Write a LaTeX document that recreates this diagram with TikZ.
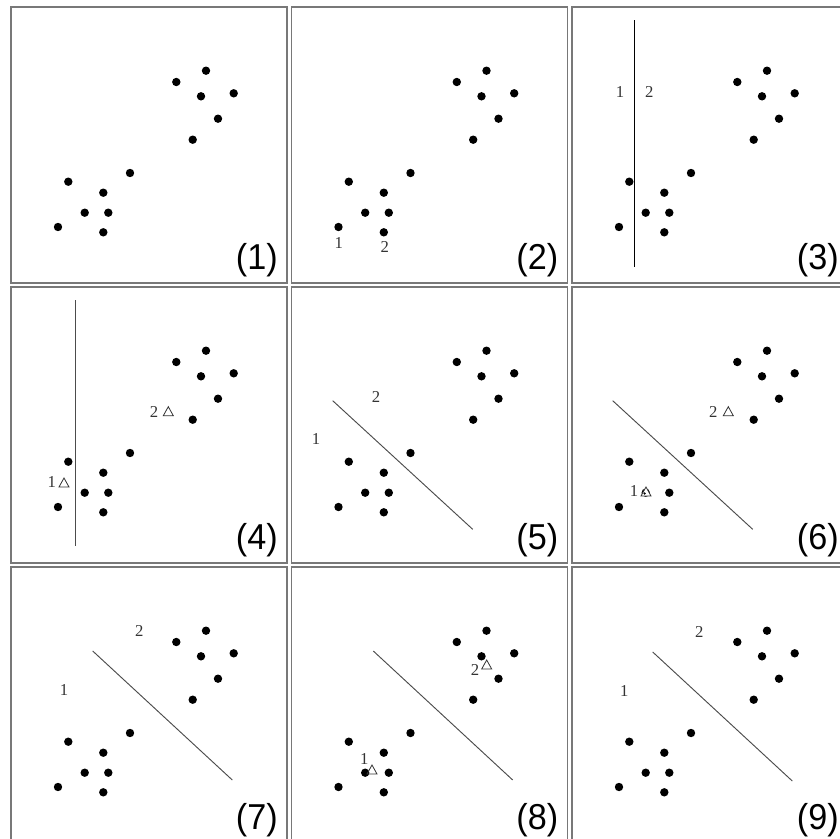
\documentclass[tikz,border=0pt]{standalone}
\usepackage{fontspec}
\setmainfont{Liberation Serif}
\newfontfamily\capfont{Liberation Sans}
\tikzset{
  frame/.style={draw={rgb,255:red,120;green,120;blue,120}, line width=1.1pt},
  sepline/.style={draw=black!70, line width=0.7pt},
  lab/.style={inner sep=0pt, text=black!80, font=\fontsize{12.5}{12.5}\selectfont},
  captext/.style={inner sep=0pt, anchor=base east, font=\capfont\fontsize{27}{27}\selectfont},
  tri/.style={draw=black!80, line width=0.6pt}
}
\newcommand\pdots{%
  \foreach \p in {(195,63.7),(165.3,75),(190,89.3),(222.7,86.3),(207,111.7),(181.7,132.7),(119,166),(57.3,174.7),(92.3,185.7),(73.7,205.7),(97.3,205.7),(47,220),(92.3,225.3)}
    \fill \p circle (4.2);
}
\newcommand\ptri[2][]{\draw[tri,#1] #2 ++(-5,4) -- ++(10,0) -- ++(-5,-9) -- cycle;}
\newcommand\pframe[1]{\draw[frame] (0,0) rectangle (276,276);
  \node[captext] (cap#1) at (267,262) {\scalebox{0.95}[1]{(#1)}};}
\begin{document}
\begin{tikzpicture}[x=0.75pt,y=-0.75pt]
\useasboundingbox (0,0) rectangle (840,839);
\clip (0,0) rectangle (840,839);
\fill[white] (0,0) rectangle (840,839);
% (1)
\begin{scope}[shift={(11,7)}]
  \pframe{1}\pdots
\end{scope}
% (2)
\begin{scope}[shift={(291.5,7)}]
  \pframe{2}\pdots
  \node[lab] (b1) at (47.2,236.3) {1};
  \node[lab] (b2) at (93.2,240.3) {2};
\end{scope}
% (3)
\begin{scope}[shift={(572,7)}]
  \pframe{3}\pdots
  \coordinate (c3a) at (62,13); \coordinate (c3b) at (62,259.7);
  \draw[black, line width=0.6pt] (c3a) -- (c3b);
  \node[lab] (c1) at (48,84.7) {1};
  \node[lab] (c2) at (77.3,84.7) {2};
\end{scope}
% (4)
\begin{scope}[shift={(11,287)}]
  \pframe{4}\pdots
  \coordinate (d4a) at (64,13); \coordinate (d4b) at (64,258.7);
  \draw[sepline] (d4a) -- (d4b);
  \node[lab] (d1) at (40.7,195.3) {1};
  \ptri{(53,196)}
  \node[lab] (d2) at (143,125.3) {2};
  \ptri{(157.3,124.7)}
\end{scope}
% (5)
\begin{scope}[shift={(291.5,287)}]
  \pframe{5}\pdots
  \coordinate (e5a) at (41.2,113.7); \coordinate (e5b) at (181.2,242.3);
  \draw[sepline] (e5a) -- (e5b);
  \node[lab] (e2) at (84.5,109.7) {2};
  \node[lab] (e1) at (24.5,152.3) {1};
\end{scope}
% (6)
\begin{scope}[shift={(572,287)}]
  \pframe{6}\pdots
  \coordinate (f6a) at (40.7,113.7); \coordinate (f6b) at (180.7,242.3);
  \draw[sepline] (f6a) -- (f6b);
  \node[lab] (f2) at (141.3,125.3) {2};
  \ptri{(156.3,124.7)}
  \node[lab] (f1) at (62,204) {1};
  \ptri[fill=white]{(74,205)}
  \fill (72.6,206.5) circle (1.3);
\end{scope}
% (7)
\begin{scope}[shift={(11,567)}]
  \pframe{7}\pdots
  \coordinate (g7a) at (81.7,84); \coordinate (g7b) at (221.3,213);
  \draw[sepline] (g7a) -- (g7b);
  \node[lab] (g2) at (128.3,64) {2};
  \node[lab] (g1) at (53,123) {1};
\end{scope}
% (8)
\begin{scope}[shift={(291.5,567)}]
  \pframe{8}\pdots
  \coordinate (h8a) at (81.8,84); \coordinate (h8b) at (221.2,213);
  \draw[sepline] (h8a) -- (h8b);
  \node[lab] (h2) at (183.5,103) {2};
  \ptri{(195.2,98)}
  \node[lab] (h1) at (72.8,192) {1};
  \ptri{(80.5,203)}
\end{scope}
% (9)
\begin{scope}[shift={(572,567)}]
  \pframe{9}\pdots
  \coordinate (i9a) at (80.7,85); \coordinate (i9b) at (220.3,214);
  \draw[sepline] (i9a) -- (i9b);
  \node[lab] (i2) at (127.3,64.7) {2};
  \node[lab] (i1) at (52.3,124) {1};
\end{scope}
\end{tikzpicture}
\end{document}
